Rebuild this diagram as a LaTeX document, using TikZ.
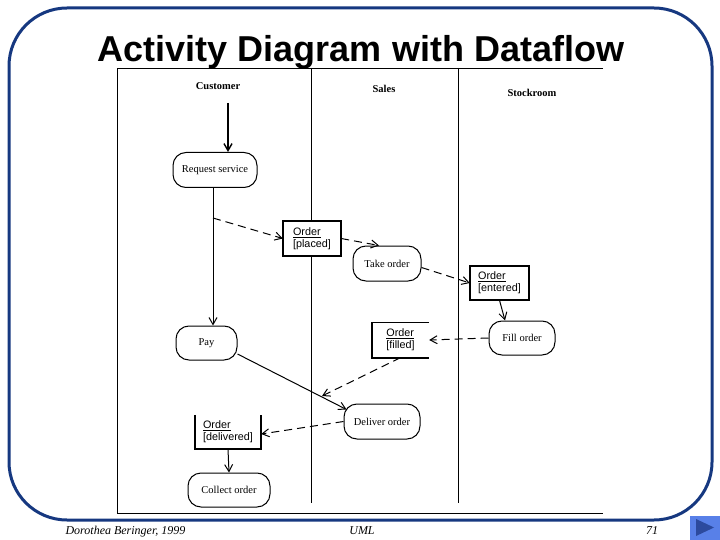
\documentclass[tikz,border=0pt]{standalone}
\usepackage{fontspec}
\setmainfont{Liberation Serif}
\setsansfont{Liberation Sans}
\usetikzlibrary{arrows.meta}
\definecolor{slideblue}{RGB}{22,56,128}
\definecolor{btnblue}{RGB}{88,128,232}
\definecolor{btndark}{RGB}{44,74,158}
\begin{document}
\begin{tikzpicture}[x=1pt,y=-1pt,
  activity/.style={draw, fill=white, line width=1pt, rounded corners=13pt, inner sep=0pt,
    font=\fontsize{10.5}{12}\selectfont},
  objbox/.style={fill=white, inner sep=0pt, align=left, font=\sffamily\fontsize{10.8}{12}\selectfont},
  objline/.style={line width=1.6pt},
  flow/.style={line width=1pt, -{Straight Barb[length=7pt,width=8pt]}},
  dflow/.style={flow, dash pattern=on 8pt off 5pt},
  lanelabel/.style={font=\bfseries\fontsize{10.5}{12}\selectfont},
  frameline/.style={line width=0.9pt},
  footer/.style={font=\itshape\fontsize{12}{14}\selectfont, anchor=base}]
\useasboundingbox (0,0) rectangle (720,540);
% slide border
\draw[slideblue, line width=3pt, rounded corners=58pt] (9,8) rectangle (712,520);
% title
\node[font=\sffamily\bfseries\fontsize{36}{40}\selectfont, anchor=base] (title) at (361,62) {Activity Diagram with Dataflow};
% diagram frame and lanes
\draw[frameline] (603,68) -- (117,68) -- (117,513) -- (603,513);
\draw[frameline] (311,68) -- (311,503);
\draw[frameline] (458,68) -- (458,503);
\node[lanelabel] (lc) at (218,86) {Customer};
\node[lanelabel] (ls) at (384,89) {Sales};
\node[lanelabel] (lk) at (532,93) {Stockroom};
% activities
\node[activity, minimum width=84pt, minimum height=35pt] (req) at (215,170) {Request service};
\node[activity, minimum width=68pt, minimum height=35pt] (take) at (387,263.5) {Take order};
\node[activity, minimum width=61pt, minimum height=34pt] (pay) at (206.5,343) {Pay};
\node[activity, minimum width=66pt, minimum height=34pt] (fill) at (522,338) {Fill order};
\node[activity, minimum width=76pt, minimum height=35pt] (deliver) at (382,421.5) {Deliver order};
\node[activity, minimum width=82pt, minimum height=34pt] (collect) at (229,490) {Collect order};
% objects
\node[objbox, minimum width=58pt, minimum height=35pt] (op) at (312,238.5) {\underline{Order}\\{}[placed]};
\draw[objline] (op.north west) rectangle (op.south east);
\node[objbox, minimum width=59pt, minimum height=34pt] (oe) at (499.5,283) {\underline{Order}\\{}[entered]};
\draw[objline] (oe.north west) rectangle (oe.south east);
\node[objbox, minimum width=57pt, minimum height=35pt] (of) at (400.5,340) {\underline{Order}\\{}[filled]};
\draw[objline] (of.north east) -- (of.north west) -- (of.south west) -- (of.south east);
\node[objbox, minimum width=66pt, minimum height=34pt] (od) at (228,432) {\underline{Order}\\{}[delivered]};
\draw[objline] (od.north west) -- (od.south west) -- (od.south east) -- (od.north east);
% control flows
\coordinate (start) at (228,103);
\coordinate (rp) at (213,0);
\draw[flow, line width=1.4pt] (start) -- (start |- req.north);
\draw[flow] (req.south -| rp) -- (pay.north -| rp);
\draw[flow] ([yshift=-11pt]pay.east) -- ([xshift=3pt,yshift=12pt]deliver.west);
\draw[flow] (oe.south) -- ([xshift=-17pt]fill.north);
\draw[flow] (od.south) -- (collect.north);
% data flows
\coordinate (d1) at (213,218);
\coordinate (m1) at (322,396);
\draw[dflow] (d1) -- (op.west);
\draw[dflow] (op.east) -- ([xshift=-8pt]take.north);
\draw[dflow] ([yshift=-4pt]take.east) -- (oe.west);
\draw[dflow] (fill.west) -- (of.east);
\draw[dflow] (of.south) -- (m1);
\draw[dflow] (deliver.west) -- ([yshift=-2pt]od.east);
% footer
\node[footer, anchor=base west] (fa) at (62,534) {Dorothea Beringer, 1999};
\node[footer] (fu) at (362,534) {UML};
\node[footer] (fn) at (652,534) {71};
\fill[btnblue] (690,516) rectangle (720,540);
\fill[btndark] (696,519) -- (714,527.5) -- (696,536) -- cycle;
\end{tikzpicture}
\end{document}
